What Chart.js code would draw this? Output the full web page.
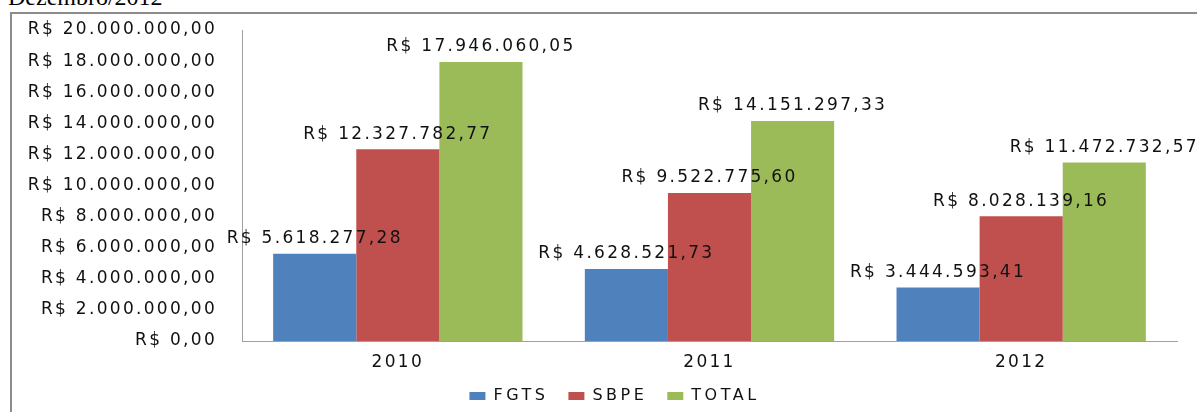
<!DOCTYPE html>
<html>
<head>
<meta charset="utf-8">
<script src="https://cdn.jsdelivr.net/npm/chart.js@4/dist/chart.umd.min.js"></script>
<style>
    html, body { margin: 0; padding: 0; background: #fff; }
    #wrap { position: relative; width: 1197px; height: 412px; overflow: hidden; }
    #title {
        position: absolute; left: 8px; top: -15px;
        font-family: 'Liberation Serif', serif; font-size: 24px; line-height: 24px;
        color: #000; white-space: nowrap;
    }
    #frame {
        position: absolute; left: 10px; top: 12px; right: -4px; bottom: -4px;
        border-left: 2px solid #8c8c8c; border-top: 2px solid #8c8c8c;
    }
    #chart { position: absolute; left: 0; top: 0; }
</style>
</head>
<body>
<div id="wrap">
    <div id="title">Dezembro/2012</div>
    <div id="frame"></div>
    <canvas id="chart" width="1197" height="412"></canvas>
</div>
<script>
// === Data ===
const years = ['2010', '2011', '2012'];
const fgts = [5618277.28, 4628521.73, 3444593.41];
const sbpe = [12327782.77, 9522775.60, 8028139.16];
const total = [17946060.05, 14151297.33, 11472732.57];
const yMax = 20000000;
const yStep = 2000000;

// R$ 1.234.567,89
function formatReal(v) {
    const parts = v.toFixed(2).split('.');
    const intPart = parts[0].replace(/\B(?=(\d{3})+(?!\d))/g, '.');
    return 'R$ ' + intPart + ',' + parts[1];
}

const FONT = "'DejaVu Sans', Verdana, sans-serif";
const FONT_SIZE = 17;
const SPACING = '2.3px';
const LEGEND_SPACING = '3.5px';
const LEGEND_SHIFT = 26;

// texto mais largo, como no original
const wideText = {
    id: 'wideText',
    beforeInit(chart) { chart.ctx.letterSpacing = SPACING; },
    afterInit(chart) {
        const lg = chart.legend;
        ['fit', 'draw'].forEach(m => {
            const orig = lg[m];
            lg[m] = function(...args) {
                const prev = chart.ctx.letterSpacing;
                chart.ctx.letterSpacing = LEGEND_SPACING;
                const r = orig.apply(this, args);
                chart.ctx.letterSpacing = prev;
                return r;
            };
        });
    },
    // legenda centrada na moldura, não no canvas
    afterLayout(chart) {
        chart.legend.left += LEGEND_SHIFT;
        chart.legend.right += LEGEND_SHIFT;
    },
    beforeDraw(chart) { chart.ctx.letterSpacing = SPACING; }
};

// rótulos acima das barras
const barLabels = {
    id: 'barLabels',
    afterDatasetsDraw(chart) {
        const ctx = chart.ctx;
        ctx.save();
        ctx.letterSpacing = SPACING;
        ctx.font = FONT_SIZE + 'px ' + FONT;
        ctx.fillStyle = '#111';
        ctx.textAlign = 'center';
        ctx.textBaseline = 'middle';
        chart.data.datasets.forEach((ds, i) => {
            chart.getDatasetMeta(i).data.forEach((bar, j) => {
                ctx.fillText(formatReal(ds.data[j]), bar.x, bar.y - 15);
            });
        });
        ctx.restore();
    }
};

Chart.defaults.font.family = FONT;
Chart.defaults.color = '#111';

new Chart(document.getElementById('chart'), {
    type: 'bar',
    data: {
        labels: years,
        datasets: [
            { label: 'FGTS', data: fgts, backgroundColor: '#4F81BD' },
            { label: 'SBPE', data: sbpe, backgroundColor: '#C0504D' },
            { label: 'TOTAL', data: total, backgroundColor: '#9BBB59' }
        ]
    },
    options: {
        responsive: false,
        animation: false,
        layout: { padding: { left: 0, right: 20, top: 30, bottom: -2 } },
        datasets: { bar: { categoryPercentage: 0.8, barPercentage: 1.0 } },
        plugins: {
            legend: {
                position: 'bottom',
                labels: {
                    boxWidth: 16,
                    boxHeight: 8,
                    padding: 20,
                    font: { size: 16 },
                    color: '#111'
                }
            },
            tooltip: { enabled: false }
        },
        scales: {
            x: {
                grid: { display: false, drawTicks: false },
                border: { display: true, color: '#a0a0a0' },
                ticks: { font: { size: FONT_SIZE }, padding: 11, color: '#111' },
                afterFit(scale) { scale.height = 27; }
            },
            y: {
                min: 0,
                max: yMax,
                grid: { display: false, drawTicks: false },
                border: { display: true, color: '#a0a0a0' },
                ticks: {
                    stepSize: yStep,
                    font: { size: FONT_SIZE },
                    padding: 25,
                    color: '#111',
                    callback: v => formatReal(v)
                },
                afterFit(scale) {
                    scale.width = 242;
                    scale.paddingTop = 0;
                    scale.paddingBottom = 0;
                }
            }
        }
    },
    plugins: [wideText, barLabels]
});
</script>
</body>
</html>
